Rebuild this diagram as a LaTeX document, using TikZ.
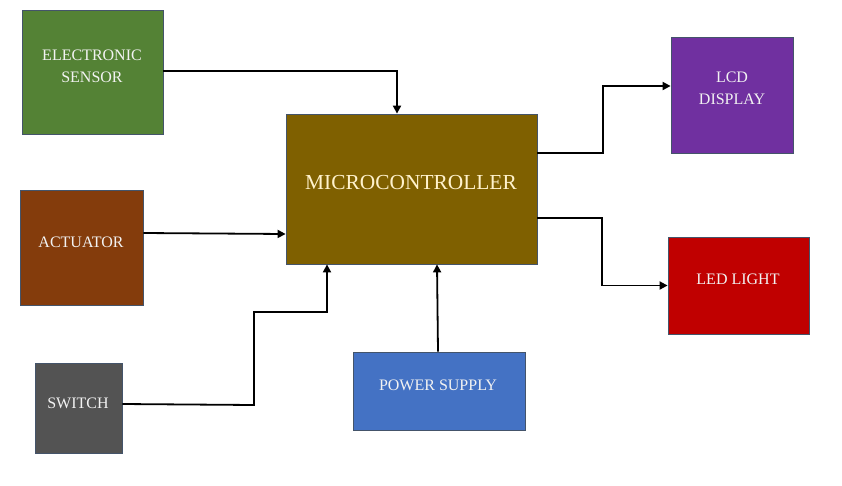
\documentclass[tikz,border=0pt]{standalone}
\usepackage{fontspec}
\setmainfont{Liberation Serif}
\usetikzlibrary{arrows.meta}
\definecolor{cgreen}{HTML}{548235}
\definecolor{cbrown}{HTML}{843C0C}
\definecolor{cgray}{HTML}{535353}
\definecolor{colive}{HTML}{7F6000}
\definecolor{cblue}{HTML}{4472C4}
\definecolor{cpurple}{HTML}{7030A0}
\definecolor{cred}{HTML}{C00000}
\definecolor{cborder}{HTML}{44546A}
\definecolor{ctext}{HTML}{F2F2F2}
\definecolor{cmtext}{HTML}{FFF2CC}
\tikzset{
  box/.style={draw=cborder, line width=0.8pt, inner sep=0pt},
  txt/.style={text=ctext, align=center, font=\fontsize{16}{22}\selectfont, inner sep=0pt},
  arr/.style={line width=1.8pt, -{Triangle[length=8pt,width=8pt]}}
}
\begin{document}
\begin{tikzpicture}[x=1pt,y=-1pt]
\useasboundingbox (0,0) rectangle (842,485);
% boxes
\node[box, fill=cgreen, minimum width=141pt, minimum height=124pt] (sensor) at (92.5,72) {};
\node[txt] (sensortxt) at (92,66) {ELECTRONIC\\SENSOR};
\node[box, fill=cbrown, minimum width=123pt, minimum height=115pt] (actuator) at (81.5,247.5) {};
\node[txt] (actuatortxt) at (81,242) {ACTUATOR};
\node[box, fill=cgray, minimum width=87pt, minimum height=90pt] (switch) at (78.5,408) {};
\node[txt] (switchtxt) at (78,403) {SWITCH};
\node[box, fill=colive, minimum width=251pt, minimum height=150pt] (micro) at (411.5,189) {};
\node[txt, text=cmtext, font=\fontsize{21.4}{24}\selectfont] (microtxt) at (411,183) {MICROCONTROLLER};
\node[box, fill=cblue, minimum width=172pt, minimum height=78pt] (power) at (439,391) {};
\node[txt] (powertxt) at (438,385) {POWER SUPPLY};
\node[box, fill=cpurple, minimum width=122pt, minimum height=116pt] (lcd) at (732,95) {};
\node[txt] (lcdtxt) at (732,88) {LCD\\DISPLAY};
\node[box, fill=cred, minimum width=141pt, minimum height=97pt] (led) at (738.5,285.5) {};
\node[txt] (ledtxt) at (738,279) {LED LIGHT};
% connectors
\draw[arr] ([yshift=1pt]sensor.east) -| ([xshift=-14.5pt]micro.north);
\draw[arr] ([yshift=14.5pt]actuator.east) -- ([yshift=-45pt]micro.west);
\draw[arr] ([yshift=4pt]switch.east) -- (254,405) |- (327,312) -- ([xshift=-84.5pt]micro.south);
\draw[arr] ([xshift=-1pt]power.north) -- ([xshift=25.5pt]micro.south);
\draw[arr] ([yshift=36pt]micro.east) -- (603,153) |- ([yshift=9pt]lcd.west);
\draw[arr] ([yshift=-29pt]micro.east) -- (602,218) |- (led.west);
\end{tikzpicture}
\end{document}
